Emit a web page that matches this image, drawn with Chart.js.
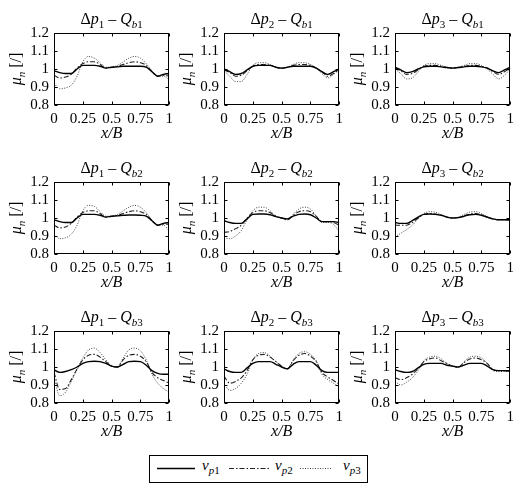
<!DOCTYPE html>
<html><head><meta charset="utf-8">
<script src="https://cdn.jsdelivr.net/npm/chart.js@4/dist/chart.umd.min.js"></script>
<style>
html,body{margin:0;padding:0;background:#fff;}
#wrap{position:relative;width:520px;height:488px;overflow:hidden;background:#fff;font-family:"Liberation Serif","Times New Roman",Times,"DejaVu Serif",serif;}
#wrap canvas{position:absolute;}
#legend{position:absolute;left:149px;top:455px;width:219px;height:28px;}
</style></head>
<body><div id="wrap">
<svg id="legend" width="219" height="28" xmlns="http://www.w3.org/2000/svg">
<rect x="0.5" y="0.5" width="218" height="27" fill="#fff" stroke="#000" stroke-width="1"/>
<line x1="8" y1="13.5" x2="46" y2="13.5" stroke="#000" stroke-width="1.4"/>
<line x1="80" y1="13.5" x2="121" y2="13.5" stroke="#222" stroke-width="1.1" stroke-dasharray="5,2,1.5,2"/>
<line x1="151" y1="13.5" x2="183" y2="13.5" stroke="#444" stroke-width="1" stroke-dasharray="1,1.5"/>
<text font-family="Liberation Serif, Times New Roman, serif" font-size="15" y="15"><tspan x="53" font-style="italic">v</tspan><tspan dy="4" font-size="11" font-style="italic">p</tspan><tspan font-size="11">1</tspan></text>
<text font-family="Liberation Serif, Times New Roman, serif" font-size="15" y="15"><tspan x="126" font-style="italic">v</tspan><tspan dy="4" font-size="11" font-style="italic">p</tspan><tspan font-size="11">2</tspan></text>
<text font-family="Liberation Serif, Times New Roman, serif" font-size="15" y="15"><tspan x="194" font-style="italic">v</tspan><tspan dy="4" font-size="11" font-style="italic">p</tspan><tspan font-size="11">3</tspan></text>
</svg>
</div>
<script>
// ---- data ----
const xPos = [0,0.05,0.1,0.15,0.2,0.25,0.3,0.35,0.4,0.45,0.5,0.55,0.6,0.65,0.7,0.75,0.8,0.85,0.9,0.95,1];
const xTickVals = [0,0.25,0.5,0.75,1];
const xTickLabels = ['0','0.25','0.5','0.75','1'];
const yTickVals = [0.8,0.9,1,1.1,1.2];
const yTickLabels = ['0.8','0.9','1','1.1','1.2'];
const panelP = [1,2,3,1,2,3,1,2,3];
const panelB = [1,1,1,2,2,2,3,3,3];

const p1b1_vp1 = [0.99,0.98,0.975,0.975,1.0,1.02,1.02,1.02,1.015,1.005,1.01,1.012,1.015,1.015,1.015,1.015,1.01,0.985,0.96,0.97,0.975];
const p1b1_vp2 = [0.965,0.95,0.955,0.97,1.005,1.03,1.04,1.04,1.025,1.005,1.01,1.015,1.025,1.035,1.04,1.035,1.02,0.985,0.96,0.965,0.96];
const p1b1_vp3 = [0.92,0.89,0.895,0.91,0.96,1.04,1.07,1.06,1.035,1.01,1.01,1.02,1.04,1.06,1.07,1.06,1.03,0.99,0.96,0.96,0.94];

const p2b1_vp1 = [1.0,0.985,0.97,0.975,0.995,1.015,1.02,1.02,1.02,1.01,1.005,1.01,1.015,1.015,1.015,1.015,1.005,0.985,0.97,0.985,1.0];
const p2b1_vp2 = [0.995,0.98,0.96,0.965,0.99,1.015,1.025,1.025,1.02,1.01,1.005,1.01,1.02,1.025,1.025,1.02,1.005,0.985,0.96,0.975,0.995];
const p2b1_vp3 = [0.99,0.96,0.93,0.93,0.97,1.02,1.035,1.035,1.025,1.01,1.005,1.01,1.025,1.035,1.035,1.025,1.005,0.975,0.95,0.97,1.0];

const p3b1_vp1 = [1.01,0.995,0.98,0.985,1.0,1.012,1.015,1.015,1.012,1.008,1.005,1.008,1.012,1.015,1.015,1.012,1.005,0.99,0.98,0.995,1.01];
const p3b1_vp2 = [1.005,0.99,0.97,0.975,0.995,1.015,1.02,1.02,1.015,1.008,1.005,1.01,1.015,1.02,1.02,1.015,1.005,0.985,0.97,0.985,1.005];
const p3b1_vp3 = [1.0,0.975,0.945,0.95,0.985,1.02,1.03,1.03,1.02,1.01,1.005,1.01,1.02,1.03,1.03,1.02,1.0,0.97,0.945,0.965,1.0];

const p1b2_vp1 = [0.99,0.98,0.975,0.975,1.0,1.02,1.02,1.02,1.015,1.005,1.01,1.012,1.015,1.017,1.017,1.015,1.01,0.985,0.96,0.97,0.975];
const p1b2_vp2 = [0.96,0.945,0.95,0.97,1.005,1.03,1.04,1.04,1.025,1.005,1.01,1.015,1.025,1.035,1.04,1.035,1.02,0.985,0.96,0.965,0.965];
const p1b2_vp3 = [0.91,0.885,0.89,0.91,0.96,1.04,1.07,1.065,1.035,1.01,1.01,1.02,1.04,1.06,1.07,1.06,1.03,0.99,0.96,0.96,0.93];

const p2b2_vp1 = [0.985,0.975,0.97,0.97,0.995,1.02,1.022,1.022,1.018,1.008,1.0,0.995,1.01,1.02,1.022,1.018,1.0,0.98,0.98,0.98,0.975];
const p2b2_vp2 = [0.92,0.925,0.94,0.96,1.0,1.03,1.04,1.04,1.03,1.01,1.0,0.99,1.015,1.035,1.04,1.035,1.01,0.98,0.98,0.975,0.96];
const p2b2_vp3 = [0.89,0.885,0.9,0.93,0.99,1.04,1.06,1.06,1.04,1.01,1.0,0.99,1.02,1.05,1.06,1.05,1.01,0.975,0.975,0.965,0.925];

const p3b2_vp1 = [0.975,0.97,0.97,0.985,1.005,1.02,1.022,1.02,1.015,1.005,1.0,1.002,1.01,1.018,1.02,1.015,1.005,0.995,0.99,0.99,0.99];
const p3b2_vp2 = [0.96,0.96,0.96,0.975,1.0,1.02,1.025,1.022,1.015,1.005,1.0,1.003,1.012,1.022,1.025,1.018,1.005,0.995,0.99,0.99,0.988];
const p3b2_vp3 = [0.895,0.915,0.935,0.96,0.995,1.025,1.035,1.032,1.02,1.005,1.0,1.005,1.02,1.033,1.035,1.025,1.005,0.995,0.99,0.99,0.99];

const p1b3_vp1 = [0.985,0.97,0.975,0.985,1.0,1.02,1.03,1.032,1.03,1.02,1.005,1.0,1.015,1.03,1.032,1.03,1.01,0.98,0.965,0.96,0.96];
const p1b3_vp2 = [0.97,0.875,0.88,0.93,0.99,1.04,1.065,1.07,1.055,1.03,1.005,1.0,1.04,1.065,1.07,1.06,1.03,0.97,0.94,0.925,0.91];
const p1b3_vp3 = [0.94,0.84,0.86,0.92,0.985,1.05,1.095,1.105,1.08,1.04,1.005,1.0,1.05,1.095,1.105,1.09,1.04,0.96,0.91,0.88,0.86];

const p2b3_vp1 = [0.99,0.975,0.97,0.97,0.995,1.02,1.03,1.03,1.03,1.015,1.0,0.99,1.015,1.03,1.03,1.03,1.01,0.98,0.97,0.97,0.97];
const p2b3_vp2 = [0.95,0.91,0.92,0.94,0.98,1.04,1.065,1.07,1.055,1.03,1.005,0.99,1.035,1.065,1.075,1.06,1.03,0.97,0.945,0.925,0.905];
const p2b3_vp3 = [0.91,0.87,0.88,0.91,0.96,1.04,1.075,1.08,1.06,1.03,1.005,0.99,1.04,1.075,1.085,1.07,1.035,0.96,0.93,0.91,0.89];

const p3b3_vp1 = [0.985,0.975,0.97,0.975,0.995,1.015,1.02,1.02,1.02,1.01,1.005,1.0,1.01,1.02,1.02,1.02,1.005,0.985,0.98,0.98,0.98];
const p3b3_vp2 = [0.94,0.93,0.94,0.96,0.99,1.03,1.045,1.05,1.035,1.02,1.005,1.0,1.025,1.045,1.05,1.04,1.02,0.985,0.98,0.98,0.975];
const p3b3_vp3 = [0.92,0.9,0.915,0.94,0.98,1.035,1.055,1.06,1.045,1.02,1.005,1.0,1.03,1.055,1.06,1.05,1.02,0.98,0.975,0.975,0.975];

const panelData = [
  [p1b1_vp1,p1b1_vp2,p1b1_vp3],[p2b1_vp1,p2b1_vp2,p2b1_vp3],[p3b1_vp1,p3b1_vp2,p3b1_vp3],
  [p1b2_vp1,p1b2_vp2,p1b2_vp3],[p2b2_vp1,p2b2_vp2,p2b2_vp3],[p3b2_vp1,p3b2_vp2,p3b2_vp3],
  [p1b3_vp1,p1b3_vp2,p1b3_vp3],[p2b3_vp1,p2b3_vp2,p2b3_vp3],[p3b3_vp1,p3b3_vp2,p3b3_vp3]
];

// ---- layout ----
const colLeft = [54,224,395];
const rowTop = [33,182,331];
const PW = 118, PH = 72, PADL = 54, PADT = 33, XAXH = 45;
const FONT = '"Liberation Serif", "Times New Roman", Times, "DejaVu Serif", serif';

const styles = [
  {borderColor:'#000', borderWidth:1.4, borderDash:[]},
  {borderColor:'#222', borderWidth:1.1, borderDash:[5,2,1.5,2]},
  {borderColor:'#444', borderWidth:1, borderDash:[1,1.5]}
];

function drawRuns(ctx, runs, x, y, align){
  let w = 0;
  runs.forEach(r=>{ ctx.font = (r.it?'italic ':'normal ') + r.sz + 'px ' + FONT; r.w = ctx.measureText(r.t).width; w += r.w; });
  let cx = align==='center' ? x - w/2 : x;
  ctx.textBaseline = 'alphabetic'; ctx.textAlign = 'left'; ctx.fillStyle = '#000';
  runs.forEach(r=>{ ctx.font = (r.it?'italic ':'normal ') + r.sz + 'px ' + FONT; ctx.fillText(r.t, cx, y + (r.dy||0)); cx += r.w; });
}

const decor = {
  id:'decor',
  afterDraw(chart, args, opts){
    const ctx = chart.ctx, a = chart.chartArea;
    const xs = chart.scales.x, ys = chart.scales.y;
    ctx.save();
    ctx.strokeStyle = '#000'; ctx.lineWidth = 1; ctx.setLineDash([]);
    const L = Math.round(a.left)+0.5, R = Math.round(a.right)-0.5, T = Math.round(a.top)+0.5, B = Math.round(a.bottom)-0.5;
    ctx.strokeRect(L, T, R-L, B-T);
    const tl = 3;
    ctx.beginPath();
    xTickVals.forEach(v=>{ const px = Math.round(xs.getPixelForValue(v))+0.5; ctx.moveTo(px,B); ctx.lineTo(px,B-tl); ctx.moveTo(px,T); ctx.lineTo(px,T+tl); });
    yTickVals.forEach(v=>{ const py = Math.round(ys.getPixelForValue(v))+0.5; ctx.moveTo(L,py); ctx.lineTo(L+tl,py); ctx.moveTo(R,py); ctx.lineTo(R-tl,py); });
    ctx.stroke();
    const cx = (a.left+a.right)/2, cy = (a.top+a.bottom)/2;
    drawRuns(ctx, [
      {t:'\u0394', sz:16},{t:'p', sz:16, it:true},{t:String(opts.p), sz:11, dy:4},
      {t:' \u2013 ', sz:16},{t:'Q', sz:16, it:true},{t:'b', sz:11, it:true, dy:4},{t:String(opts.b), sz:11, dy:4}
    ], cx, a.top - 9, 'center');
    drawRuns(ctx, [{t:'x/B', sz:16, it:true}], cx, a.bottom + 33, 'center');
    ctx.save();
    ctx.translate(21, cy);
    ctx.rotate(-Math.PI/2);
    drawRuns(ctx, [{t:'\u03bc', sz:16, it:true},{t:'n', sz:11, it:true, dy:4},{t:' [/]', sz:16}], 0, 0, 'center');
    ctx.restore();
    ctx.restore();
  }
};

const charts = [];
const wrap = document.getElementById('wrap');
panelData.forEach((series, i)=>{
  const c = i % 3, r = Math.floor(i/3);
  const cv = document.createElement('canvas');
  const W = PADL + PW + 6, H = PADT + PH + XAXH;
  cv.width = W; cv.height = H;
  cv.style.left = (colLeft[c]-PADL)+'px'; cv.style.top = (rowTop[r]-PADT)+'px';
  cv.style.width = W+'px'; cv.style.height = H+'px';
  wrap.insertBefore(cv, document.getElementById('legend'));
  charts.push(new Chart(cv.getContext('2d'), {
    type:'line',
    data:{ datasets: series.map((vals, k)=>Object.assign({
      label:'v_p'+(k+1),
      data: xPos.map((x, j)=>({x:x, y:vals[j]})),
      pointRadius:0, fill:false, cubicInterpolationMode:'monotone'
    }, styles[k])) },
    options:{
      responsive:false, animation:false, devicePixelRatio:1,
      layout:{padding:{left:0, top:PADT, right:6, bottom:0}},
      plugins:{legend:{display:false}, tooltip:{enabled:false}, decor:{p:panelP[i], b:panelB[i]}},
      scales:{
        x:{type:'linear', min:0, max:1,
          afterBuildTicks:(s)=>{ s.ticks = xTickVals.map(v=>({value:v})); },
          afterFit:(s)=>{ s.height = XAXH; },
          grid:{display:false, drawTicks:false}, border:{display:false},
          ticks:{autoSkip:false, maxRotation:0, minRotation:0, padding:5, color:'#000',
            font:{family:FONT, size:15}, callback:(v, idx)=>xTickLabels[idx]}},
        y:{type:'linear', min:0.8, max:1.2,
          afterBuildTicks:(s)=>{ s.ticks = yTickVals.map(v=>({value:v})); },
          afterFit:(s)=>{ s.width = PADL; },
          grid:{display:false, drawTicks:false}, border:{display:false},
          ticks:{autoSkip:false, padding:5, color:'#000',
            font:{family:FONT, size:15}, callback:(v, idx)=>yTickLabels[idx]}}
      }
    },
    plugins:[decor]
  }));
});
if (document.fonts && document.fonts.load) {
  Promise.all([
    document.fonts.load('15px "Liberation Serif"'),
    document.fonts.load('italic 15px "Liberation Serif"')
  ]).then(()=>charts.forEach(ch=>ch.update())).catch(()=>{});
}
</script>
</body></html>
